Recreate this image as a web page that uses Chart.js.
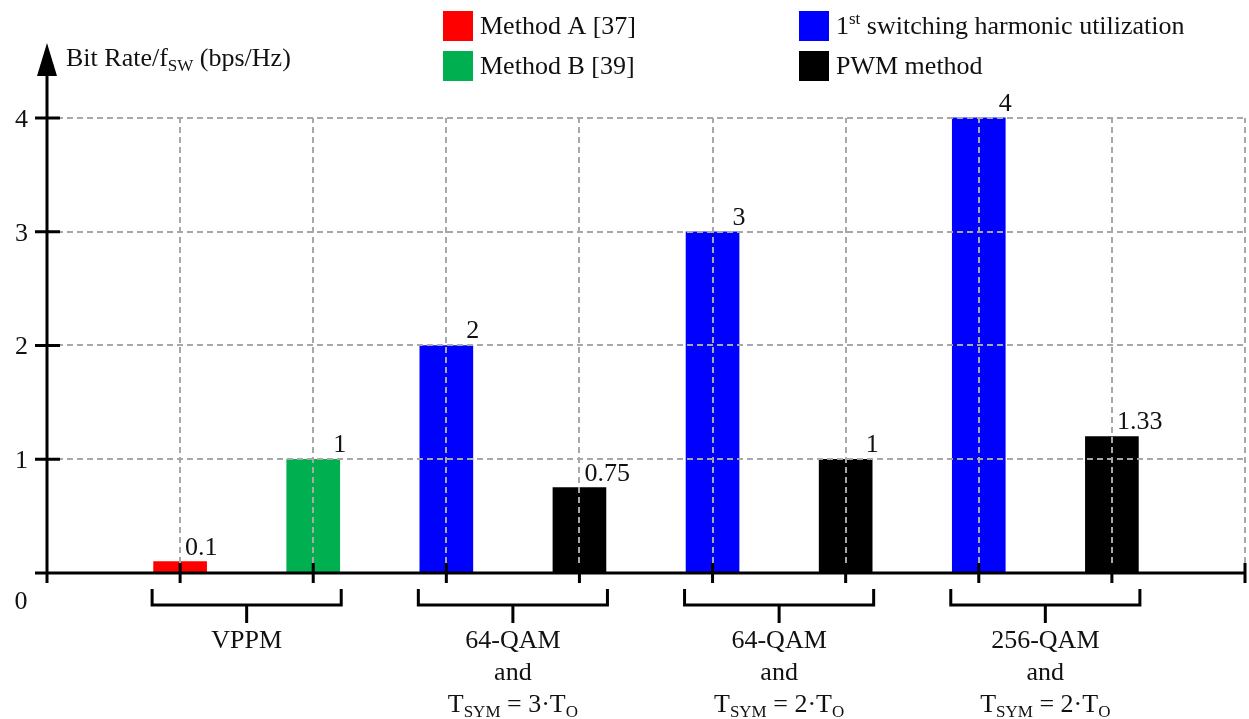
<!DOCTYPE html>
<html>
<head>
<meta charset="utf-8">
<script src="https://cdn.jsdelivr.net/npm/chart.js@4.4.0/dist/chart.umd.min.js"></script>
<style>
  body { margin: 0; background: #fff; }
  #wrap { width: 1249px; height: 719px; }
</style>
</head>
<body>
<div id="wrap"><canvas id="myChart"></canvas></div>
<script>
// data
const seriesNames = ['Method A [37]', 'Method B [39]', '1^{st} switching harmonic utilization', 'PWM method'];
const seriesColors = ['#ff0000', '#00b050', '#0000ff', '#000000'];

const methodASlots = [1];
const methodAValues = [0.1];
const methodALabels = ['0.1'];

const methodBSlots = [2];
const methodBValues = [1];
const methodBLabels = ['1'];

const harmonicSlots = [3, 5, 7];
const harmonicValues = [2, 3, 4];
const harmonicLabels = ['2', '3', '4'];

const pwmSlots = [4, 6, 8];
const pwmValues = [0.75, 1, 1.2];
const pwmLabels = ['0.75', '1', '1.33'];

const groupSlots = [[1, 2], [3, 4], [5, 6], [7, 8]];
const groupLabels = [
    ['VPPM'],
    ['64-QAM', 'and', 'T_{SYM} = 3·T_{O}'],
    ['64-QAM', 'and', 'T_{SYM} = 2·T_{O}'],
    ['256-QAM', 'and', 'T_{SYM} = 2·T_{O}']
];

const yTicks = [1, 2, 3, 4];
const xTicks = [1, 2, 3, 4, 5, 6, 7, 8, 9];
const yTitle = 'Bit Rate/f_{SW} (bps/Hz)';

const FONT = '"Liberation Serif", "DejaVu Serif", serif';

function points(slots, values) {
    return slots.map((s, i) => ({ x: s, y: values[i] }));
}

const allLabels = [methodALabels, methodBLabels, harmonicLabels, pwmLabels];

// text with _{sub} and ^{sup} parts
function drawRich(ctx, str, x, y, size, align) {
    const parts = [];
    const re = /_\{([^}]*)\}|\^\{([^}]*)\}/g;
    let last = 0, m;
    while ((m = re.exec(str)) !== null) {
        if (m.index > last) parts.push({ t: str.slice(last, m.index), k: 0 });
        if (m[1] !== undefined) parts.push({ t: m[1], k: 1 });
        else parts.push({ t: m[2], k: 2 });
        last = re.lastIndex;
    }
    if (last < str.length) parts.push({ t: str.slice(last), k: 0 });

    const small = Math.round(size * 0.66);
    let total = 0;
    parts.forEach(p => {
        ctx.font = (p.k ? small : size) + 'px ' + FONT;
        p.w = ctx.measureText(p.t).width;
        total += p.w;
    });
    let cx = x;
    if (align === 'center') cx = x - total / 2;
    else if (align === 'right') cx = x - total;
    ctx.textAlign = 'left';
    ctx.textBaseline = 'alphabetic';
    parts.forEach(p => {
        ctx.font = (p.k ? small : size) + 'px ' + FONT;
        let dy = 0;
        if (p.k === 1) dy = size * 0.18;
        if (p.k === 2) dy = -size * 0.38;
        ctx.fillText(p.t, cx, y + dy);
        cx += p.w;
    });
}

const decorations = {
    id: 'decorations',
    afterDatasetsDraw(chart) {
        const ctx = chart.ctx;
        const xs = chart.scales.x;
        const ys = chart.scales.y;
        const x0 = xs.getPixelForValue(0);
        const y0 = ys.getPixelForValue(0);
        const xEnd = xs.getPixelForValue(9);
        const yTop = ys.getPixelForValue(4);

        ctx.save();

        // dashed grid over the bars
        ctx.strokeStyle = '#a8a8a8';
        ctx.lineWidth = 2;
        ctx.setLineDash([6, 4]);
        yTicks.forEach(v => {
            const py = Math.round(ys.getPixelForValue(v));
            ctx.beginPath();
            ctx.moveTo(x0, py);
            ctx.lineTo(xEnd, py);
            ctx.stroke();
        });
        xTicks.forEach(v => {
            const px = Math.round(xs.getPixelForValue(v));
            ctx.beginPath();
            ctx.moveTo(px, y0 - 10);
            ctx.lineTo(px, yTop);
            ctx.stroke();
        });
        ctx.setLineDash([]);

        // axes
        ctx.strokeStyle = '#000';
        ctx.fillStyle = '#000';
        ctx.lineWidth = 3;
        ctx.beginPath();
        ctx.moveTo(x0 - 12, y0);
        ctx.lineTo(xEnd + 1, y0);
        ctx.moveTo(x0, y0 + 10);
        ctx.lineTo(x0, 74);
        ctx.stroke();
        ctx.beginPath();
        ctx.moveTo(x0, 43);
        ctx.lineTo(x0 - 10, 76);
        ctx.lineTo(x0 + 10, 76);
        ctx.closePath();
        ctx.fill();

        // tick marks
        ctx.beginPath();
        yTicks.forEach(v => {
            const py = ys.getPixelForValue(v);
            ctx.moveTo(x0 - 12, py);
            ctx.lineTo(x0 + 13, py);
        });
        xTicks.forEach(v => {
            const px = xs.getPixelForValue(v);
            ctx.moveTo(px, y0 - 10);
            ctx.lineTo(px, y0 + 10);
        });
        ctx.stroke();

        // tick labels
        ctx.fillStyle = '#111';
        yTicks.forEach(v => {
            drawRich(ctx, String(v), 28, ys.getPixelForValue(v) + 9, 26, 'right');
        });
        drawRich(ctx, '0', 21, 609, 26, 'center');

        // y title
        drawRich(ctx, yTitle, 66, 66, 26, 'left');

        // value labels
        chart.data.datasets.forEach((ds, i) => {
            const meta = chart.getDatasetMeta(i);
            meta.data.forEach((el, j) => {
                const txt = allLabels[i][j];
                if (txt.length === 1) {
                    drawRich(ctx, txt, el.x + el.width / 2, el.y - 7, 26, 'center');
                } else {
                    drawRich(ctx, txt, el.x + 5, el.y - 7, 26, 'left');
                }
            });
        });

        // group brackets and labels
        ctx.strokeStyle = '#000';
        ctx.lineWidth = 3;
        groupSlots.forEach((g, i) => {
            const l = xs.getPixelForValue(g[0]) - 28;
            const r = xs.getPixelForValue(g[1]) + 28;
            const c = (l + r) / 2;
            ctx.beginPath();
            ctx.moveTo(l, 589);
            ctx.lineTo(l, 605);
            ctx.lineTo(r, 605);
            ctx.lineTo(r, 589);
            ctx.moveTo(c, 605);
            ctx.lineTo(c, 623);
            ctx.stroke();
            groupLabels[i].forEach((line, k) => {
                drawRich(ctx, line, c, 648 + k * 32, 26, 'center');
            });
        });

        // legend
        const legendPos = [[443, 11], [443, 51], [799, 11], [799, 51]];
        seriesNames.forEach((name, i) => {
            const p = legendPos[i];
            ctx.fillStyle = seriesColors[i];
            ctx.fillRect(p[0], p[1], 30, 30);
            ctx.fillStyle = '#111';
            drawRich(ctx, name, p[0] + 37, p[1] + 23, 26, 'left');
        });

        ctx.restore();
    }
};

const series = [
    points(methodASlots, methodAValues),
    points(methodBSlots, methodBValues),
    points(harmonicSlots, harmonicValues),
    points(pwmSlots, pwmValues)
];

const ctx = document.getElementById('myChart').getContext('2d');
const myChart = new Chart(ctx, {
    type: 'bar',
    data: {
        datasets: series.map((d, i) => ({
            label: seriesNames[i],
            data: d,
            backgroundColor: seriesColors[i],
            borderWidth: 0,
            barThickness: 53,
            grouped: false
        }))
    },
    options: {
        responsive: true,
        maintainAspectRatio: false,
        animation: false,
        layout: { padding: { left: 47, right: 4, top: 44, bottom: 146 } },
        plugins: {
            legend: { display: false },
            tooltip: { enabled: false }
        },
        scales: {
            x: { type: 'linear', min: 0, max: 9, offset: false, display: false },
            y: { min: 0, max: 4.65, display: false }
        }
    },
    plugins: [decorations]
});
</script>
</body>
</html>
